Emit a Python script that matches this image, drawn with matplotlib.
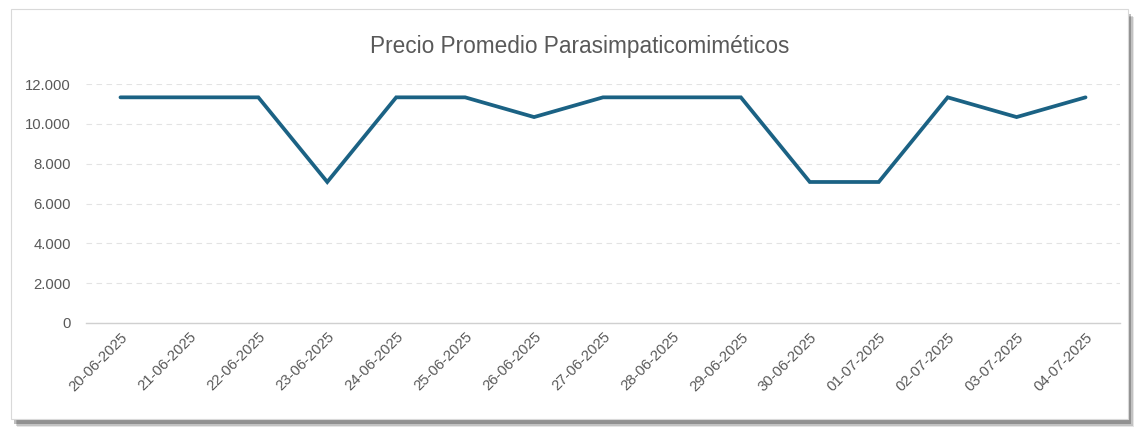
import matplotlib.pyplot as plt
import matplotlib.patches as patches
from matplotlib.ticker import FuncFormatter

fechas = ["20-06-2025", "21-06-2025", "22-06-2025", "23-06-2025", "24-06-2025",
          "25-06-2025", "26-06-2025", "27-06-2025", "28-06-2025", "29-06-2025",
          "30-06-2025", "01-07-2025", "02-07-2025", "03-07-2025", "04-07-2025"]
precios = [11330, 11330, 11330, 7080, 11330,
           11330, 10340, 11330, 11330, 11330,
           7080, 7080, 11330, 10340, 11330]
yticks = [0, 2000, 4000, 6000, 8000, 10000, 12000]

plt.rcParams['font.family'] = ['Liberation Sans', 'DejaVu Sans']

fig = plt.figure(figsize=(11.42, 4.3), dpi=100)
fig.patch.set_facecolor('white')

# chart frame with a soft shadow
W, H = 1142, 430
for i, a in enumerate([0.10, 0.15, 0.25]):
    off = 5 - i * 1.5
    fig.patches.append(patches.Rectangle(((12 + off) / W, (8 - off) / H), 1117 / W, 410 / H,
                                         transform=fig.transFigure, facecolor='black',
                                         alpha=a, edgecolor='none', zorder=0))
fig.patches.append(patches.Rectangle((11 / W, 11 / H), 1117 / W, 410 / H,
                                     transform=fig.transFigure, facecolor='white',
                                     edgecolor='#d9d9d9', linewidth=0.8, zorder=1))

ax = fig.add_axes([86 / W, 107 / H, 1034 / W, 239 / H])
ax.set_zorder(5)
ax.set_facecolor('none')
x = range(len(fechas))
ax.plot(x, precios, color='#1b6284', linewidth=2.7, solid_capstyle='round',
        solid_joinstyle='miter', zorder=3)

ax.set_xlim(-0.5, len(fechas) - 0.5)
ax.set_ylim(0, 12000)
ax.set_yticks(yticks)
ax.yaxis.set_major_formatter(FuncFormatter(lambda v, p: f"{int(v):,}".replace(",", ".")))
ax.set_xticks(list(x))
ax.set_xticklabels(fechas, rotation=45, ha='right', rotation_mode='anchor')

ax.grid(axis='y', color='#e3e3e3', linestyle=(0, (5, 4)), linewidth=0.8)
ax.set_axisbelow(True)
for s in ['top', 'right', 'left']:
    ax.spines[s].set_visible(False)
ax.spines['bottom'].set_color('#d0d0d0')
ax.spines['bottom'].set_linewidth(1)
ax.tick_params(axis='both', length=0, colors='#595959', labelsize=10.7)
ax.tick_params(axis='y', pad=11)
ax.tick_params(axis='x', pad=5)

fig.text(580 / W, 1 - 47 / H, "Precio Promedio Parasimpaticomiméticos",
         ha='center', va='center', fontsize=16.3, color='#595959', zorder=6)

fig.savefig('out.png', dpi=100)
